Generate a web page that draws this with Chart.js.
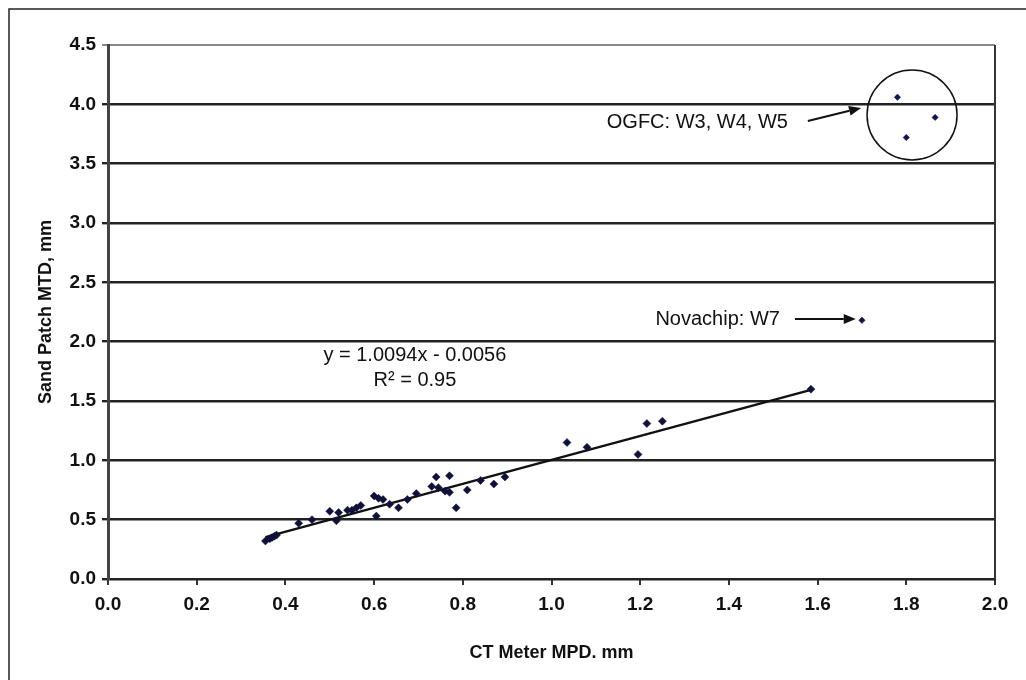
<!DOCTYPE html>
<html>
<head>
<meta charset="utf-8">
<script src="https://cdn.jsdelivr.net/npm/chart.js@4/dist/chart.umd.min.js"></script>
<style>
html,body{margin:0;padding:0;background:#fff;}
#wrap{width:1026px;height:680px;position:relative;}
</style>
</head>
<body>
<div id="wrap"><canvas id="c" width="1026" height="680"></canvas></div>
<script>
// ---- data ----
const mainX = [0.355,0.365,0.37,0.375,0.38,0.43,0.46,0.50,0.515,0.52,0.54,0.55,0.56,0.57,0.60,0.605,0.61,0.62,0.635,0.655,0.675,0.695,0.73,0.74,0.745,0.76,0.77,0.77,0.785,0.81,0.84,0.87,0.895,1.035,1.08,1.195,1.215,1.25,1.585];
const mainY = [0.32,0.34,0.35,0.36,0.37,0.47,0.50,0.57,0.49,0.56,0.58,0.58,0.60,0.62,0.70,0.53,0.68,0.67,0.63,0.60,0.67,0.72,0.78,0.86,0.77,0.74,0.87,0.73,0.60,0.75,0.83,0.80,0.86,1.15,1.11,1.05,1.31,1.33,1.60];
const ogfcX = [1.78,1.80,1.865];
const ogfcY = [4.06,3.72,3.89];
const novaX = [1.70];
const novaY = [2.18];
const trendX = [0.355,1.585];
const trendY = [0.353,1.594];
const xTickValues = [0.0,0.2,0.4,0.6,0.8,1.0,1.2,1.4,1.6,1.8,2.0];
const yTickValues = [0.0,0.5,1.0,1.5,2.0,2.5,3.0,3.5,4.0,4.5];
const xTitle = "CT Meter MPD. mm";
const yTitle = "Sand Patch MTD, mm";
const eqText = "y = 1.0094x - 0.0056";
const r2Text = "R² = 0.95";
const ogfcText = "OGFC: W3, W4, W5";
const novaText = "Novachip: W7";

const zip = (xs, ys) => xs.map((x, i) => ({x: x, y: ys[i]}));

const FONT = "'Liberation Sans', Arial, sans-serif";

const decor = {
  id: 'decor',
  beforeDraw(chart) {
    const ctx = chart.ctx;
    ctx.save();
    ctx.fillStyle = '#fff';
    ctx.fillRect(0, 0, chart.width, chart.height);
    // outer frame (left and top)
    ctx.strokeStyle = '#222';
    ctx.lineWidth = 1.5;
    ctx.beginPath();
    ctx.moveTo(9, chart.height);
    ctx.lineTo(9, 9);
    ctx.lineTo(chart.width, 9);
    ctx.stroke();
    ctx.restore();
  },
  afterDraw(chart) {
    const ctx = chart.ctx;
    const xs = chart.scales.x, ys = chart.scales.y;
    const a = chart.chartArea;
    ctx.save();
    // right border of plot area
    ctx.strokeStyle = '#333';
    ctx.lineWidth = 2;
    ctx.beginPath();
    ctx.moveTo(a.right, a.top);
    ctx.lineTo(a.right, a.bottom);
    ctx.stroke();

    ctx.fillStyle = '#111';
    ctx.font = '20px ' + FONT;
    ctx.textBaseline = 'middle';
    // regression equation
    ctx.textAlign = 'center';
    ctx.fillText(eqText, xs.getPixelForValue(0.692), ys.getPixelForValue(1.88));
    ctx.fillText(r2Text, xs.getPixelForValue(0.692), ys.getPixelForValue(1.67));
    // OGFC label + arrow + circle
    ctx.textAlign = 'right';
    ctx.fillText(ogfcText, xs.getPixelForValue(1.533), ys.getPixelForValue(3.85));
    drawArrow(ctx, xs.getPixelForValue(1.578), ys.getPixelForValue(3.86), xs.getPixelForValue(1.698), ys.getPixelForValue(3.97));
    ctx.strokeStyle = '#111';
    ctx.lineWidth = 1.5;
    ctx.beginPath();
    ctx.arc(xs.getPixelForValue(1.813), ys.getPixelForValue(3.91), 45, 0, Math.PI * 2);
    ctx.stroke();
    // Novachip label + arrow
    ctx.fillText(novaText, xs.getPixelForValue(1.515), ys.getPixelForValue(2.19));
    drawArrow(ctx, xs.getPixelForValue(1.549), ys.getPixelForValue(2.19), xs.getPixelForValue(1.686), ys.getPixelForValue(2.19));
    ctx.restore();
  }
};

function drawArrow(ctx, x1, y1, x2, y2) {
  const ang = Math.atan2(y2 - y1, x2 - x1);
  const L = 12, W = 5;
  ctx.strokeStyle = '#111';
  ctx.fillStyle = '#111';
  ctx.lineWidth = 2;
  ctx.beginPath();
  ctx.moveTo(x1, y1);
  ctx.lineTo(x2 - L * Math.cos(ang), y2 - L * Math.sin(ang));
  ctx.stroke();
  ctx.beginPath();
  ctx.moveTo(x2, y2);
  ctx.lineTo(x2 - L * Math.cos(ang) + W * Math.sin(ang), y2 - L * Math.sin(ang) - W * Math.cos(ang));
  ctx.lineTo(x2 - L * Math.cos(ang) - W * Math.sin(ang), y2 - L * Math.sin(ang) + W * Math.cos(ang));
  ctx.closePath();
  ctx.fill();
}

new Chart(document.getElementById('c'), {
  type: 'scatter',
  data: {
    datasets: [
      {
        type: 'line',
        label: 'trend',
        data: zip(trendX, trendY),
        borderColor: '#111',
        borderWidth: 2.5,
        pointRadius: 0,
        showLine: true,
        fill: false,
        order: 2
      },
      {
        label: 'main',
        data: zip(mainX, mainY),
        pointStyle: 'rectRot',
        pointRadius: 4,
        backgroundColor: '#10103a',
        borderColor: '#10103a',
        borderWidth: 0.5,
        order: 1
      },
      {
        label: 'ogfc',
        data: zip(ogfcX, ogfcY),
        pointStyle: 'rectRot',
        pointRadius: 3.2,
        backgroundColor: '#141450',
        borderColor: '#141450',
        borderWidth: 0.5,
        order: 1
      },
      {
        label: 'nova',
        data: zip(novaX, novaY),
        pointStyle: 'rectRot',
        pointRadius: 3.2,
        backgroundColor: '#141450',
        borderColor: '#141450',
        borderWidth: 0.5,
        order: 1
      }
    ]
  },
  options: {
    responsive: false,
    animation: false,
    events: [],
    layout: { padding: { left: 0, top: 45, right: 31, bottom: 0 } },
    plugins: { legend: { display: false }, tooltip: { enabled: false } },
    scales: {
      x: {
        type: 'linear',
        min: 0, max: 2,
        afterBuildTicks: s => { s.ticks = xTickValues.map(v => ({value: v})); },
        afterFit: s => { s.height = 101; },
        ticks: {
          callback: v => Number(v).toFixed(1),
          color: '#111',
          font: { family: FONT, size: 19, weight: 'bold' },
          padding: 8,
          maxRotation: 0,
          autoSkip: false
        },
        grid: {
          drawOnChartArea: false,
          drawTicks: true,
          tickLength: 6,
          color: '#333',
          lineWidth: 2
        },
        border: { display: true, color: '#222', width: 2 },
        title: {
          display: true,
          text: xTitle,
          color: '#111',
          font: { family: FONT, size: 18, weight: 'bold' },
          padding: { top: 0, bottom: 16 }
        }
      },
      y: {
        type: 'linear',
        min: 0, max: 4.5,
        afterBuildTicks: s => { s.ticks = yTickValues.map(v => ({value: v})); },
        afterFit: s => { s.width = 108; },
        ticks: {
          callback: v => Number(v).toFixed(1),
          color: '#111',
          font: { family: FONT, size: 19, weight: 'bold' },
          padding: 6,
          autoSkip: false
        },
        grid: {
          drawOnChartArea: true,
          drawTicks: true,
          tickLength: 6,
          color: ctx => (ctx.tick && ctx.tick.value === 4.5) ? '#888' : '#222',
          lineWidth: ctx => (ctx.tick && ctx.tick.value === 4.5) ? 2 : 2.4
        },
        border: { display: true, color: '#444', width: 3 },
        title: {
          display: true,
          text: yTitle,
          color: '#111',
          font: { family: FONT, size: 18, weight: 'bold' },
          padding: { top: 35, bottom: 0 }
        }
      }
    }
  },
  plugins: [decor]
});
</script>
</body>
</html>
